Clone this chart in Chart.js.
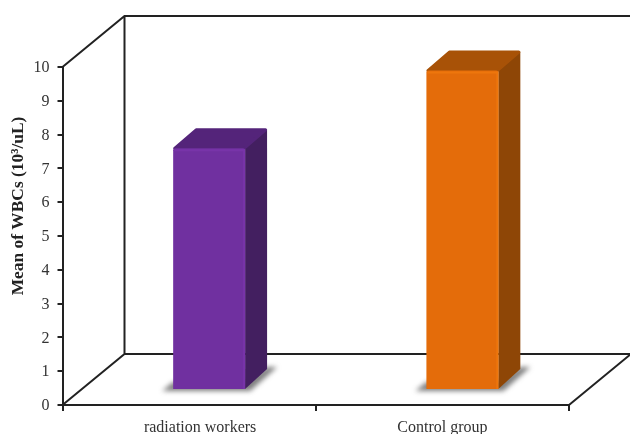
<!DOCTYPE html>
<html>
<head>
<meta charset="utf-8">
<style>
  html, body { margin: 0; padding: 0; background: #fff; }
  canvas { display: block; }
</style>
</head>
<body>
<canvas id="wbcChart" width="630" height="434"></canvas>
<script src="https://cdn.jsdelivr.net/npm/chart.js@4"></script>
<script>
const categories = ['radiation workers', 'Control group'];
const meanWbc = [7.15, 9.45];
const yTicks = [0, 1, 2, 3, 4, 5, 6, 7, 8, 9, 10];
const yTitle = 'Mean of WBCs (10³/uL)';

const frontColors = ['#7030a0', '#e46c0a'];
const rimColors = ['#7834a9', '#ee760c'];
const topColors = ['#54247a', '#a85207'];
const sideColors = ['#431f60', '#8e4606'];

const axisColor = '#222';
const serif = '"Liberation Serif", serif';
// depth of the floor, and where the bars stand on it
const wallDx = 62, wallDy = 51;
const barDx = 20, barDy = 15;
const capDx = 22, capDy = 20;

function poly(ctx, pts, fill) {
    ctx.beginPath();
    pts.forEach((p, i) => i ? ctx.lineTo(p[0], p[1]) : ctx.moveTo(p[0], p[1]));
    ctx.closePath();
    ctx.fillStyle = fill;
    ctx.fill();
}

const box3d = {
    id: 'box3d',
    beforeDraw(chart) {
        // nudge labels to where the original has them
        const xItems = chart.scales.x.getLabelItems();
        if (!xItems[0].moved) {
            xItems[0].options.translation[0] += 11;
            xItems[0].moved = true;
            chart.scales.y.getLabelItems().forEach((item) => { item.options.translation[1] += 1; });
        }
    },
    beforeDatasetsDraw(chart) {
        const { ctx, chartArea: a } = chart;
        const backL = a.left + wallDx, backR = a.right + wallDx;
        const backT = a.top - wallDy, backB = a.bottom - wallDy;
        ctx.save();
        ctx.strokeStyle = axisColor;
        ctx.lineWidth = 2;
        ctx.beginPath();
        ctx.moveTo(a.left, a.top);
        ctx.lineTo(backL, backT);
        ctx.lineTo(backR, backT);
        ctx.moveTo(backL, backT);
        ctx.lineTo(backL, backB);
        ctx.moveTo(a.left, a.bottom);
        ctx.lineTo(backL, backB);
        ctx.lineTo(backR, backB);
        ctx.lineTo(a.right, a.bottom);
        ctx.stroke();
        ctx.restore();

        // soft shadows on the floor
        const meta = chart.getDatasetMeta(0);
        ctx.save();
        ctx.filter = 'blur(2.5px)';
        meta.data.forEach((bar) => {
            const w = bar.width;
            const l = bar.x + barDx - w / 2, r = l + w;
            const b = bar.base - barDy;
            poly(ctx, [[l - 11, b + 2], [l, b - 7], [r, b - 7], [r + capDx, b - capDy - 2], [r + capDx + 10, b - capDy - 2], [r + 5, b + 2]], 'rgba(70,70,70,0.7)');
        });
        ctx.restore();

        // side and top faces, behind the front face the library draws
        meta.data.forEach((bar, i) => {
            const w = bar.width;
            const l = bar.x + barDx - w / 2, r = l + w;
            const t = bar.y - barDy, b = bar.base - barDy;
            poly(ctx, [[r, t], [r + capDx, t - capDy + 1], [r + capDx, b - capDy], [r, b]], sideColors[i]);
            ctx.save();
            ctx.lineJoin = 'round';
            ctx.lineWidth = 3;
            ctx.strokeStyle = topColors[i];
            poly(ctx, [[l + 1.5, t], [l + capDx + 1, t - capDy + 1.5], [r + capDx - 1.5, t - capDy + 1.5], [r - 1, t]], topColors[i]);
            ctx.stroke();
            ctx.restore();
        });
    },
    beforeDatasetDraw(chart) {
        chart.ctx.save();
        chart.ctx.translate(barDx, -barDy);
    },
    afterDatasetDraw(chart) {
        chart.ctx.restore();
    },
    afterDatasetsDraw(chart) {
        // slight bevel along the top and right edge of each front face
        const ctx = chart.ctx;
        chart.getDatasetMeta(0).data.forEach((bar, i) => {
            const r = bar.x + barDx + bar.width / 2 - 1;
            const l = bar.x + barDx - bar.width / 2 + 1;
            const t = bar.y - barDy + 2;
            ctx.save();
            ctx.strokeStyle = rimColors[i];
            ctx.lineWidth = 2;
            ctx.beginPath();
            ctx.moveTo(l, t);
            ctx.lineTo(r, t);
            ctx.lineTo(r, bar.base - barDy);
            ctx.stroke();
            ctx.restore();
        });
    },
    afterDraw(chart) {
        const { ctx, chartArea: a } = chart;
        ctx.save();
        ctx.translate(19, a.top + 139);
        ctx.rotate(-Math.PI / 2);
        ctx.font = 'bold 17.4px ' + serif;
        ctx.fillStyle = '#222';
        ctx.textAlign = 'center';
        ctx.textBaseline = 'middle';
        ctx.fillText(yTitle, 0, 0);
        ctx.restore();
    }
};

new Chart(document.getElementById('wbcChart').getContext('2d'), {
    type: 'bar',
    data: {
        labels: categories,
        datasets: [{
            label: 'Mean of WBCs',
            data: meanWbc,
            backgroundColor: frontColors,
            borderWidth: 0,
            borderRadius: { topLeft: 2, topRight: 2 },
            categoryPercentage: 0.284,
            barPercentage: 1,
            clip: false
        }]
    },
    options: {
        responsive: false,
        animation: false,
        layout: { padding: { top: 67, right: 61, left: 0, bottom: 0 } },
        plugins: { legend: { display: false }, tooltip: { enabled: false } },
        scales: {
            x: {
                afterFit(scale) { scale.height = 29; },
                border: { color: axisColor, width: 2 },
                grid: { drawOnChartArea: false, color: axisColor, lineWidth: 2, tickLength: 6 },
                ticks: { color: '#333', font: { family: serif, size: 16 }, padding: 7, maxRotation: 0, autoSkip: false }
            },
            y: {
                min: 0,
                max: 10,
                afterFit(scale) { scale.width = 62.5; },
                afterBuildTicks(scale) { scale.ticks = yTicks.map((v) => ({ value: v })); },
                border: { color: axisColor, width: 2 },
                grid: { drawOnChartArea: false, color: axisColor, lineWidth: 2, tickLength: 5 },
                ticks: { color: '#333', font: { family: serif, size: 16 }, padding: 8, autoSkip: false }
            }
        }
    },
    plugins: [box3d]
});
</script>
</body>
</html>
